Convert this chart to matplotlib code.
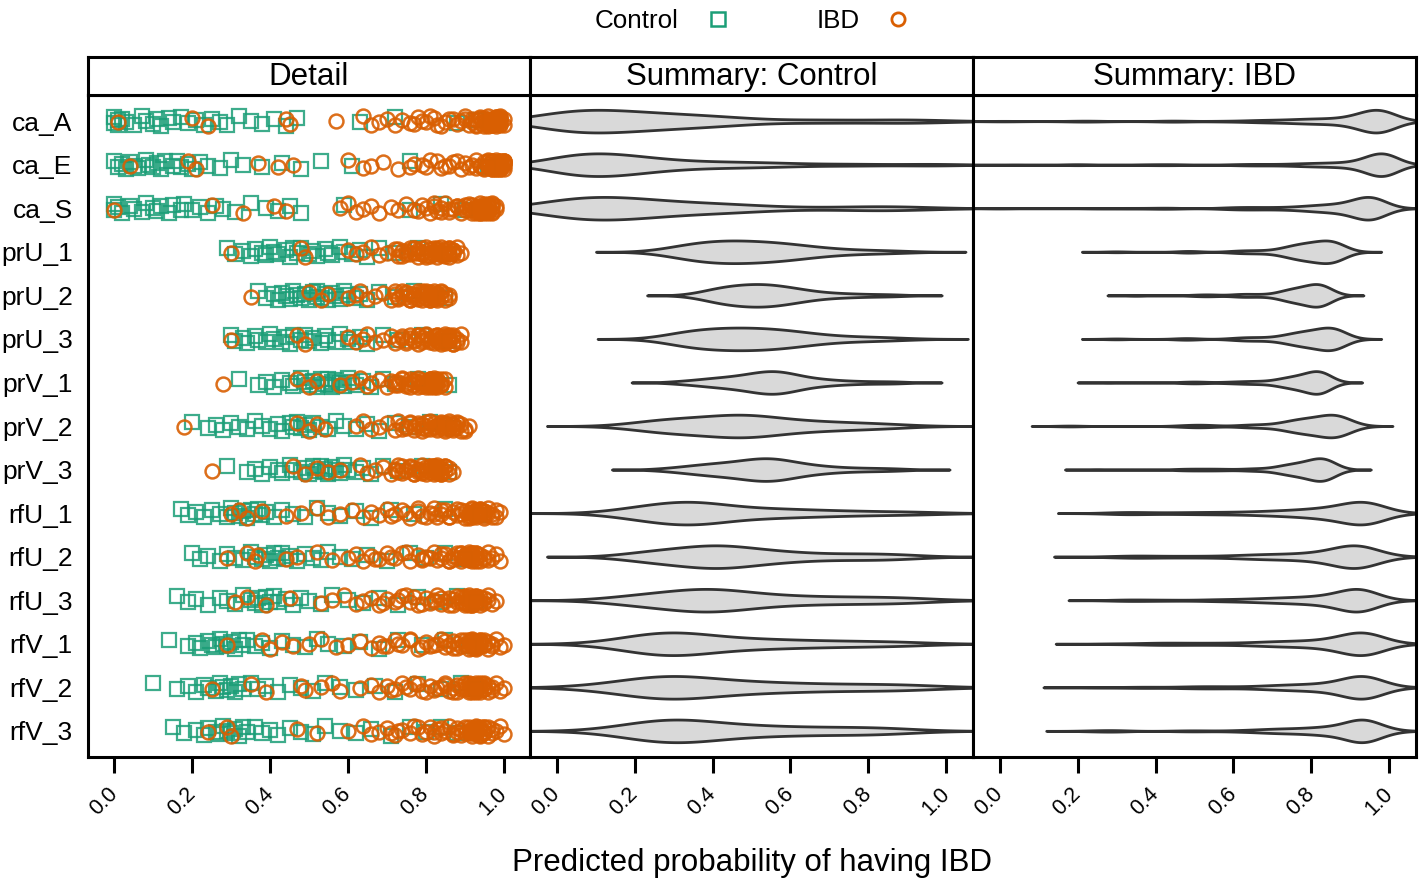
import numpy as np
import matplotlib
matplotlib.use('agg')
import matplotlib.pyplot as plt
from matplotlib.lines import Line2D

plt.rcParams['font.family'] = ['Liberation Sans', 'DejaVu Sans']

###########################################################
# data : predicted probability of IBD per model
###########################################################

models = ['ca_A', 'ca_E', 'ca_S', 'prU_1', 'prU_2', 'prU_3', 'prV_1', 'prV_2',
          'prV_3', 'rfU_1', 'rfU_2', 'rfU_3', 'rfV_1', 'rfV_2', 'rfV_3']
panel_titles = ['Detail', 'Summary: Control', 'Summary: IBD']
group_names = ['Control', 'IBD']

ctrl_ca_A = [0.00, 0.00, 0.01, 0.01, 0.02, 0.03, 0.05, 0.07, 0.08, 0.10, 0.11, 0.12, 0.14, 0.15, 0.17,
             0.19, 0.21, 0.23, 0.25, 0.27, 0.29, 0.32, 0.35, 0.38, 0.41, 0.44, 0.47, 0.63, 0.72, 0.88, 0.93]
ibd_ca_A = [0.01, 0.20, 0.24, 0.44, 0.45, 0.57, 0.64, 0.66, 0.68, 0.70, 0.72, 0.74, 0.76, 0.78, 0.80,
            0.82, 0.84, 0.86, 0.88, 0.89, 0.90, 0.91, 0.92, 0.92, 0.93, 0.93, 0.94, 0.94, 0.95, 0.95,
            0.95, 0.96, 0.96, 0.96, 0.96, 0.97, 0.97, 0.97, 0.97, 0.97, 0.98, 0.98, 0.98, 0.98, 0.98,
            0.99, 0.99, 0.99, 0.99, 0.99, 0.99, 1.00, 1.00, 0.97, 0.96, 0.98, 0.95, 0.94, 0.93, 0.90,
            0.77, 0.79, 0.81, 0.83, 0.85, 0.87, 0.96, 0.97, 0.98, 0.99, 0.97, 0.98, 0.96, 0.99, 0.98]

ctrl_ca_E = [0.00, 0.01, 0.02, 0.03, 0.04, 0.05, 0.06, 0.08, 0.09, 0.10, 0.11, 0.12, 0.13, 0.15, 0.16,
             0.17, 0.19, 0.20, 0.22, 0.24, 0.27, 0.30, 0.33, 0.38, 0.43, 0.48, 0.53, 0.61, 0.76, 0.96]
ibd_ca_E = [0.04, 0.19, 0.21, 0.37, 0.42, 0.46, 0.60, 0.64, 0.66, 0.69, 0.73, 0.77, 0.80, 0.83, 0.86,
            0.88, 0.89, 0.90, 0.91, 0.92, 0.93, 0.93, 0.94, 0.95, 0.95, 0.96, 0.96, 0.97, 0.97, 0.97,
            0.98, 0.98, 0.98, 0.98, 0.98, 0.99, 0.99, 0.99, 0.99, 0.99, 0.99, 1.00, 1.00, 1.00, 1.00,
            0.99, 0.98, 0.97, 0.96, 0.95, 0.94, 0.99, 0.98, 1.00, 0.97, 0.99, 0.98, 0.96, 0.99, 1.00,
            0.76, 0.79, 0.81, 0.84, 0.85, 0.87, 0.97, 0.98, 0.99, 1.00, 0.98, 0.99, 0.97, 1.00, 0.99]

ctrl_ca_S = [0.00, 0.00, 0.01, 0.02, 0.04, 0.05, 0.07, 0.08, 0.10, 0.11, 0.12, 0.14, 0.15, 0.17, 0.18,
             0.20, 0.22, 0.24, 0.26, 0.28, 0.31, 0.35, 0.39, 0.42, 0.45, 0.48, 0.59, 0.76, 0.84, 0.90]
ibd_ca_S = [0.00, 0.25, 0.33, 0.41, 0.44, 0.58, 0.60, 0.62, 0.64, 0.66, 0.68, 0.71, 0.73, 0.75, 0.77,
            0.79, 0.81, 0.82, 0.83, 0.84, 0.85, 0.86, 0.87, 0.88, 0.89, 0.89, 0.90, 0.91, 0.91, 0.92,
            0.92, 0.93, 0.93, 0.93, 0.94, 0.94, 0.94, 0.94, 0.95, 0.95, 0.95, 0.95, 0.95, 0.96, 0.96,
            0.96, 0.96, 0.97, 0.97, 0.97, 0.98, 0.98, 0.93, 0.94, 0.95, 0.96, 0.92, 0.90, 0.97, 0.95,
            0.78, 0.80, 0.82, 0.84, 0.86, 0.88, 0.94, 0.95, 0.96, 0.97, 0.95, 0.96, 0.94, 0.97, 0.96]

ctrl_prU_1 = [0.29, 0.31, 0.33, 0.35, 0.36, 0.38, 0.39, 0.40, 0.41, 0.42, 0.44, 0.45, 0.46, 0.47, 0.48,
              0.50, 0.51, 0.52, 0.54, 0.55, 0.56, 0.58, 0.59, 0.61, 0.63, 0.65, 0.68, 0.72, 0.78, 0.86]
ibd_prU_1 = [0.30, 0.48, 0.49, 0.60, 0.62, 0.64, 0.66, 0.68, 0.70, 0.72, 0.73, 0.74, 0.75, 0.76, 0.77,
             0.77, 0.78, 0.78, 0.79, 0.79, 0.80, 0.80, 0.81, 0.81, 0.81, 0.82, 0.82, 0.82, 0.83, 0.83,
             0.83, 0.83, 0.84, 0.84, 0.84, 0.84, 0.85, 0.85, 0.85, 0.85, 0.85, 0.86, 0.86, 0.86, 0.86,
             0.87, 0.87, 0.87, 0.88, 0.88, 0.89, 0.73, 0.74, 0.75, 0.76, 0.77, 0.78, 0.79, 0.80, 0.87]

ctrl_prU_2 = [0.37, 0.39, 0.41, 0.42, 0.43, 0.44, 0.45, 0.46, 0.47, 0.48, 0.49, 0.50, 0.51, 0.52, 0.52,
              0.53, 0.54, 0.55, 0.56, 0.57, 0.58, 0.59, 0.60, 0.62, 0.63, 0.65, 0.68, 0.72, 0.77, 0.85]
ibd_prU_2 = [0.35, 0.50, 0.53, 0.55, 0.60, 0.62, 0.63, 0.65, 0.67, 0.69, 0.71, 0.72, 0.73, 0.74, 0.75,
             0.75, 0.76, 0.76, 0.77, 0.77, 0.78, 0.78, 0.79, 0.79, 0.79, 0.80, 0.80, 0.80, 0.81, 0.81,
             0.81, 0.81, 0.82, 0.82, 0.82, 0.82, 0.82, 0.83, 0.83, 0.83, 0.83, 0.84, 0.84, 0.84, 0.85,
             0.85, 0.86, 0.86, 0.72, 0.73, 0.74, 0.75, 0.76, 0.77, 0.78, 0.79, 0.82, 0.80, 0.81, 0.83]

ctrl_prU_3 = [0.30, 0.31, 0.33, 0.34, 0.36, 0.37, 0.39, 0.40, 0.41, 0.43, 0.44, 0.45, 0.46, 0.48, 0.49,
              0.50, 0.51, 0.53, 0.54, 0.55, 0.57, 0.58, 0.60, 0.61, 0.63, 0.65, 0.69, 0.73, 0.79, 0.86]
ibd_prU_3 = [0.30, 0.47, 0.49, 0.60, 0.62, 0.64, 0.65, 0.67, 0.69, 0.71, 0.72, 0.74, 0.75, 0.76, 0.77,
             0.78, 0.78, 0.79, 0.79, 0.80, 0.80, 0.81, 0.81, 0.82, 0.82, 0.82, 0.83, 0.83, 0.83, 0.83,
             0.84, 0.84, 0.84, 0.84, 0.85, 0.85, 0.85, 0.85, 0.85, 0.86, 0.86, 0.86, 0.86, 0.87, 0.87,
             0.87, 0.88, 0.88, 0.89, 0.89, 0.73, 0.74, 0.75, 0.76, 0.77, 0.78, 0.79, 0.80, 0.87, 0.86]

ctrl_prV_1 = [0.32, 0.37, 0.39, 0.41, 0.43, 0.45, 0.46, 0.48, 0.49, 0.50, 0.51, 0.52, 0.53, 0.54, 0.55,
              0.55, 0.56, 0.56, 0.57, 0.58, 0.59, 0.60, 0.61, 0.62, 0.64, 0.66, 0.69, 0.72, 0.78, 0.86]
ibd_prV_1 = [0.28, 0.47, 0.50, 0.52, 0.58, 0.61, 0.63, 0.65, 0.66, 0.68, 0.70, 0.72, 0.73, 0.74, 0.75,
             0.76, 0.76, 0.77, 0.77, 0.78, 0.78, 0.79, 0.79, 0.79, 0.80, 0.80, 0.80, 0.81, 0.81, 0.81,
             0.81, 0.82, 0.82, 0.82, 0.82, 0.82, 0.83, 0.83, 0.83, 0.83, 0.84, 0.84, 0.84, 0.85, 0.85,
             0.71, 0.72, 0.73, 0.74, 0.75, 0.76, 0.77, 0.78, 0.80, 0.84, 0.81, 0.82, 0.83, 0.82, 0.81]

ctrl_prV_2 = [0.20, 0.24, 0.26, 0.28, 0.30, 0.32, 0.34, 0.36, 0.38, 0.40, 0.42, 0.43, 0.45, 0.46, 0.47,
              0.48, 0.49, 0.50, 0.51, 0.53, 0.55, 0.57, 0.59, 0.62, 0.65, 0.68, 0.72, 0.76, 0.81, 0.87]
ibd_prV_2 = [0.18, 0.47, 0.50, 0.52, 0.54, 0.62, 0.64, 0.66, 0.68, 0.70, 0.72, 0.74, 0.75, 0.76, 0.77,
             0.78, 0.79, 0.79, 0.80, 0.80, 0.81, 0.81, 0.82, 0.82, 0.83, 0.83, 0.83, 0.84, 0.84, 0.84,
             0.85, 0.85, 0.85, 0.85, 0.86, 0.86, 0.86, 0.86, 0.87, 0.87, 0.87, 0.88, 0.88, 0.88, 0.89,
             0.89, 0.90, 0.91, 0.73, 0.74, 0.75, 0.76, 0.77, 0.78, 0.79, 0.80, 0.86, 0.85, 0.90, 0.87]

ctrl_prV_3 = [0.29, 0.34, 0.36, 0.38, 0.40, 0.42, 0.43, 0.45, 0.46, 0.48, 0.49, 0.50, 0.51, 0.52, 0.53,
              0.54, 0.54, 0.55, 0.56, 0.57, 0.58, 0.59, 0.60, 0.62, 0.64, 0.66, 0.69, 0.73, 0.79, 0.86]
ibd_prV_3 = [0.25, 0.46, 0.49, 0.52, 0.55, 0.58, 0.63, 0.65, 0.67, 0.69, 0.71, 0.72, 0.73, 0.74, 0.75,
             0.76, 0.77, 0.77, 0.78, 0.78, 0.79, 0.79, 0.80, 0.80, 0.80, 0.81, 0.81, 0.81, 0.82, 0.82,
             0.82, 0.82, 0.83, 0.83, 0.83, 0.83, 0.83, 0.84, 0.84, 0.84, 0.84, 0.85, 0.85, 0.85, 0.86,
             0.86, 0.87, 0.72, 0.73, 0.74, 0.75, 0.76, 0.77, 0.78, 0.79, 0.82, 0.83, 0.81, 0.84, 0.83]

ctrl_rfU_1 = [0.17, 0.19, 0.21, 0.23, 0.25, 0.27, 0.29, 0.30, 0.31, 0.32, 0.33, 0.34, 0.35, 0.36, 0.37,
              0.38, 0.39, 0.41, 0.43, 0.46, 0.49, 0.52, 0.55, 0.58, 0.62, 0.66, 0.71, 0.77, 0.85, 0.94]
ibd_rfU_1 = [0.30, 0.32, 0.34, 0.38, 0.44, 0.48, 0.52, 0.55, 0.58, 0.61, 0.64, 0.66, 0.68, 0.70, 0.72,
             0.74, 0.76, 0.78, 0.79, 0.81, 0.82, 0.83, 0.84, 0.85, 0.86, 0.87, 0.88, 0.88, 0.89, 0.89,
             0.90, 0.90, 0.91, 0.91, 0.92, 0.92, 0.92, 0.93, 0.93, 0.93, 0.93, 0.94, 0.94, 0.94, 0.95,
             0.95, 0.95, 0.96, 0.96, 0.97, 0.97, 0.98, 0.98, 0.99, 0.93, 0.92, 0.94, 0.93, 0.91, 0.95,
             0.71, 0.75, 0.78, 0.80, 0.82, 0.84, 0.86, 0.92, 0.93, 0.94, 0.95]

ctrl_rfU_2 = [0.20, 0.22, 0.24, 0.27, 0.29, 0.31, 0.33, 0.35, 0.36, 0.38, 0.39, 0.40, 0.41, 0.42, 0.43,
              0.44, 0.45, 0.47, 0.49, 0.51, 0.53, 0.55, 0.58, 0.61, 0.65, 0.70, 0.76, 0.80, 0.85, 0.90]
ibd_rfU_2 = [0.29, 0.34, 0.36, 0.37, 0.44, 0.47, 0.52, 0.56, 0.60, 0.62, 0.64, 0.66, 0.68, 0.70, 0.72,
             0.74, 0.76, 0.78, 0.79, 0.80, 0.82, 0.83, 0.84, 0.85, 0.86, 0.87, 0.87, 0.88, 0.88, 0.89,
             0.89, 0.90, 0.90, 0.90, 0.91, 0.91, 0.91, 0.91, 0.92, 0.92, 0.92, 0.93, 0.93, 0.93, 0.94,
             0.94, 0.95, 0.95, 0.96, 0.96, 0.97, 0.98, 0.99, 0.91, 0.90, 0.92, 0.91, 0.89, 0.93, 0.90,
             0.67, 0.71, 0.75, 0.79, 0.81, 0.84, 0.86, 0.90, 0.91, 0.92, 0.93]

ctrl_rfU_3 = [0.16, 0.19, 0.21, 0.24, 0.27, 0.29, 0.31, 0.33, 0.35, 0.36, 0.37, 0.38, 0.39, 0.40, 0.41,
              0.42, 0.44, 0.46, 0.48, 0.50, 0.53, 0.56, 0.60, 0.64, 0.68, 0.73, 0.78, 0.83, 0.88, 0.93]
ibd_rfU_3 = [0.31, 0.34, 0.39, 0.45, 0.53, 0.56, 0.59, 0.62, 0.64, 0.66, 0.68, 0.70, 0.72, 0.74, 0.76,
             0.77, 0.78, 0.80, 0.81, 0.82, 0.83, 0.84, 0.85, 0.86, 0.87, 0.87, 0.88, 0.88, 0.89, 0.89,
             0.90, 0.90, 0.90, 0.91, 0.91, 0.91, 0.92, 0.92, 0.92, 0.92, 0.93, 0.93, 0.93, 0.94, 0.94,
             0.95, 0.95, 0.96, 0.96, 0.97, 0.98, 0.92, 0.91, 0.93, 0.92, 0.90, 0.94, 0.91, 0.92, 0.93,
             0.69, 0.73, 0.75, 0.79, 0.82, 0.84, 0.86, 0.91, 0.92, 0.93, 0.94]

ctrl_rfV_1 = [0.14, 0.19, 0.21, 0.22, 0.24, 0.25, 0.26, 0.27, 0.28, 0.29, 0.30, 0.31, 0.32, 0.33, 0.34,
              0.36, 0.38, 0.40, 0.43, 0.46, 0.49, 0.52, 0.55, 0.59, 0.63, 0.68, 0.73, 0.79, 0.85, 0.91]
ibd_rfV_1 = [0.29, 0.38, 0.40, 0.43, 0.46, 0.50, 0.53, 0.57, 0.60, 0.63, 0.66, 0.68, 0.70, 0.72, 0.74,
             0.76, 0.78, 0.80, 0.81, 0.83, 0.84, 0.85, 0.86, 0.87, 0.88, 0.88, 0.89, 0.89, 0.90, 0.90,
             0.91, 0.91, 0.92, 0.92, 0.92, 0.93, 0.93, 0.93, 0.93, 0.94, 0.94, 0.94, 0.95, 0.95, 0.96,
             0.96, 0.97, 0.97, 0.98, 0.99, 1.00, 0.93, 0.92, 0.94, 0.93, 0.91, 0.95, 0.92, 0.93, 0.94,
             0.69, 0.73, 0.76, 0.79, 0.82, 0.85, 0.87, 0.92, 0.93, 0.94, 0.95]

ctrl_rfV_2 = [0.10, 0.16, 0.19, 0.21, 0.23, 0.24, 0.26, 0.27, 0.28, 0.29, 0.30, 0.31, 0.32, 0.33, 0.35,
              0.37, 0.39, 0.42, 0.45, 0.48, 0.51, 0.54, 0.58, 0.62, 0.67, 0.72, 0.78, 0.84, 0.89, 0.93]
ibd_rfV_2 = [0.25, 0.35, 0.39, 0.48, 0.49, 0.53, 0.56, 0.58, 0.63, 0.66, 0.68, 0.70, 0.72, 0.74, 0.76,
             0.78, 0.80, 0.81, 0.82, 0.84, 0.85, 0.86, 0.87, 0.88, 0.88, 0.89, 0.89, 0.90, 0.90, 0.91,
             0.91, 0.92, 0.92, 0.92, 0.93, 0.93, 0.93, 0.93, 0.94, 0.94, 0.94, 0.95, 0.95, 0.95, 0.96,
             0.96, 0.97, 0.97, 0.98, 0.99, 1.00, 0.93, 0.92, 0.94, 0.93, 0.91, 0.95, 0.92, 0.93, 0.94,
             0.71, 0.75, 0.77, 0.79, 0.83, 0.85, 0.87, 0.92, 0.93, 0.94, 0.95]

ctrl_rfV_3 = [0.15, 0.18, 0.21, 0.23, 0.24, 0.26, 0.27, 0.28, 0.29, 0.30, 0.31, 0.32, 0.33, 0.34, 0.36,
              0.38, 0.40, 0.42, 0.45, 0.48, 0.51, 0.54, 0.58, 0.62, 0.66, 0.71, 0.76, 0.80, 0.84, 0.88]
ibd_rfV_3 = [0.24, 0.29, 0.30, 0.47, 0.52, 0.60, 0.64, 0.66, 0.68, 0.70, 0.72, 0.74, 0.76, 0.78, 0.80,
             0.81, 0.82, 0.83, 0.84, 0.85, 0.86, 0.87, 0.88, 0.88, 0.89, 0.89, 0.90, 0.90, 0.91, 0.91,
             0.92, 0.92, 0.92, 0.93, 0.93, 0.93, 0.93, 0.94, 0.94, 0.94, 0.95, 0.95, 0.95, 0.96, 0.96,
             0.97, 0.97, 0.98, 0.99, 1.00, 0.93, 0.92, 0.94, 0.93, 0.91, 0.95, 0.92, 0.93, 0.94, 0.93,
             0.71, 0.73, 0.77, 0.79, 0.82, 0.84, 0.87, 0.92, 0.93, 0.94, 0.95]

control = [ctrl_ca_A, ctrl_ca_E, ctrl_ca_S, ctrl_prU_1, ctrl_prU_2, ctrl_prU_3, ctrl_prV_1, ctrl_prV_2,
           ctrl_prV_3, ctrl_rfU_1, ctrl_rfU_2, ctrl_rfU_3, ctrl_rfV_1, ctrl_rfV_2, ctrl_rfV_3]
ibd = [ibd_ca_A, ibd_ca_E, ibd_ca_S, ibd_prU_1, ibd_prU_2, ibd_prU_3, ibd_prV_1, ibd_prV_2,
       ibd_prV_3, ibd_rfU_1, ibd_rfU_2, ibd_rfU_3, ibd_rfV_1, ibd_rfV_2, ibd_rfV_3]

###########################################################
# style
###########################################################

GREEN = '#1B9E77'
ORANGE = '#D95F02'
W, H = 1424, 885
LW = 2.2
# fixed vertical jitter pattern for the strip plot
JIT = [-0.09, 0.05, -0.02, 0.10, -0.06, 0.02, 0.08, -0.11, 0.0, 0.06, -0.04, 0.11, -0.08, 0.03]


def nrd0(x):
    # R's default density bandwidth
    sd = np.std(x, ddof=1)
    iqr = np.subtract(*np.percentile(x, [75, 25]))
    lo = min(sd, iqr / 1.34)
    if lo <= 0:
        lo = sd
    return 0.9 * lo * len(x) ** -0.2


def violin(ax, vals, pos, half=0.26):
    vals = np.asarray(vals)
    bw = nrd0(vals)
    grid = np.linspace(vals.min() - 3 * bw, vals.max() + 3 * bw, 512)
    d = np.exp(-0.5 * ((grid[:, None] - vals[None, :]) / bw) ** 2).sum(1)
    d = d / d.max() * half
    ax.fill_between(grid, pos - d, pos + d, facecolor='#D9D9D9',
                    edgecolor='#333333', lw=2.0, zorder=2)


###########################################################
# figure
###########################################################

fig = plt.figure(figsize=(W / 100, H / 100), dpi=100)

edges = [88, 530, 973, 1416]
ptop, pbot, stop = 95, 757, 57
ypos = np.arange(1, len(models) + 1)
axes = []
for k in range(3):
    x0 = edges[k] / W
    wd = (edges[k + 1] - edges[k]) / W
    ax = fig.add_axes([x0, 1 - pbot / H, wd, (pbot - ptop) / H])
    ax.set_xlim(-0.068, 1.068)
    ax.set_ylim(len(models) + 0.6, 0.4)
    ax.set_xticks([0, 0.2, 0.4, 0.6, 0.8, 1.0])
    ax.set_xticklabels(['0.0', '0.2', '0.4', '0.6', '0.8', '1.0'])
    ax.tick_params(axis='x', direction='out', length=11.5, width=LW, labelsize=15.5, pad=13)
    for lab in ax.get_xticklabels():
        lab.set_rotation(45)
        lab.set_ha('right')
        lab.set_va('center')
        lab.set_rotation_mode('anchor')
    ax.set_yticks(ypos)
    if k == 0:
        ax.set_yticklabels(models, fontsize=19)
        ax.tick_params(axis='y', length=0, pad=11)
    else:
        ax.set_yticklabels([])
        ax.tick_params(axis='y', length=0)
    for sp in ax.spines.values():
        sp.set_linewidth(LW)
    axes.append(ax)

    # strip on top
    sx = fig.add_axes([x0, 1 - ptop / H, wd, (ptop - stop) / H])
    sx.set_xticks([])
    sx.set_yticks([])
    for sp in sx.spines.values():
        sp.set_linewidth(LW)
    sx.text(0.5, 0.47, panel_titles[k], ha='center', va='center', fontsize=22.5,
            transform=sx.transAxes)

# detail panel : jittered points
ax = axes[0]
for i in range(len(models)):
    cv = np.asarray(control[i])
    ax.plot(cv, ypos[i] + np.resize(JIT, len(cv)), ls='none', marker='s', ms=10.5,
            mfc='none', mec=GREEN, mew=1.6, alpha=0.85, zorder=3)
for i in range(len(models)):
    iv = np.asarray(ibd[i])
    ax.plot(iv, ypos[i] + np.resize(JIT[::-1], len(iv)), ls='none', marker='o', ms=10,
            mfc='none', mec=ORANGE, mew=1.8, alpha=0.9, zorder=4)

# summary panels : violins
for i in range(len(models)):
    violin(axes[1], control[i], ypos[i])
    violin(axes[2], ibd[i], ypos[i])

# legend on top
handles = [Line2D([], [], ls='none', marker='s', ms=9.5, mfc='none', mec=GREEN, mew=1.8),
           Line2D([], [], ls='none', marker='o', ms=9.5, mfc='none', mec=ORANGE, mew=2.0)]
fig.legend(handles, group_names, loc='center', bbox_to_anchor=(753 / W, 1 - 21 / H),
           ncol=2, markerfirst=False, frameon=False, fontsize=18.7,
           handlelength=1.0, handletextpad=1.0, columnspacing=3.3)

fig.text(752 / W, 1 - 863 / H, 'Predicted probability of having IBD', ha='center',
         va='center', fontsize=22.5)

fig.savefig('out.png', dpi=100)
